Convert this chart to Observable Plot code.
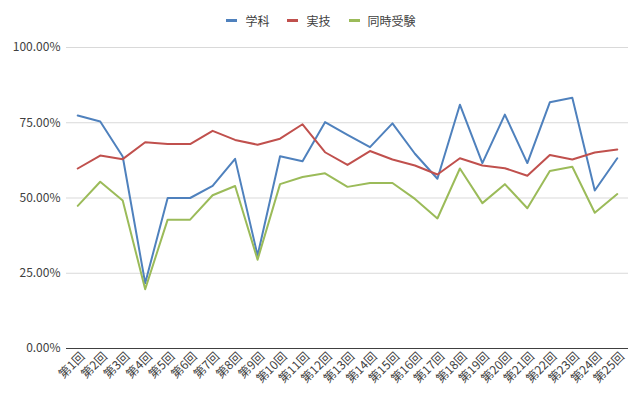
<!DOCTYPE html>
<html>
<head>
<meta charset="utf-8">
<script src="https://cdn.jsdelivr.net/npm/d3@7"></script>
<script src="https://cdn.jsdelivr.net/npm/@observablehq/plot@0.6"></script>
<style>
  html, body { margin: 0; padding: 0; background: #fff; }
  body { width: 638px; height: 399px; overflow: hidden; font-family: "Noto Sans CJK JP", "Noto Sans", sans-serif; }
  #legend { height: 35px; display: flex; justify-content: center; align-items: center; font-size: 12px; color: #404040; box-sizing: border-box; padding-top: 6px; padding-left: 4px; }
  .item { display: flex; align-items: center; margin: 0 9px; }
  .sw { width: 11px; height: 3px; margin-right: 8px; }
</style>
</head>
<body>
<div id="legend"></div>
<div id="chart"></div>
<script>
const categories = ["第1回","第2回","第3回","第4回","第5回","第6回","第7回","第8回","第9回","第10回","第11回","第12回","第13回","第14回","第15回","第16回","第17回","第18回","第19回","第20回","第21回","第22回","第23回","第24回","第25回"];
const seriesNames = ["学科", "実技", "同時受験"];
const gakka = [77.4,75.4,63.8,21.7,50.0,50.0,54.0,63.0,30.9,63.9,62.2,75.2,71.0,66.9,74.8,64.7,56.4,81.0,61.6,77.7,61.6,81.8,83.3,52.5,63.2];
const jitsugi = [59.8,64.1,62.9,68.5,67.9,67.9,72.3,69.3,67.7,69.7,74.5,65.2,61.0,65.6,62.8,60.8,57.8,63.2,60.8,59.9,57.4,64.3,62.8,65.1,66.1];
const doji = [47.4,55.4,49.2,19.7,42.8,42.8,50.9,54.0,29.5,54.6,57.0,58.2,53.7,55.0,55.0,49.7,43.2,59.8,48.3,54.6,46.6,59.0,60.4,45.1,51.3];
const yTicks = [0, 0.25, 0.5, 0.75, 1];
const colors = ["#4f81bd", "#c0504d", "#9bbb59"];

const seriesValues = [gakka, jitsugi, doji];
const data = [];
seriesNames.forEach((s, i) => {
  categories.forEach((c, j) => data.push({series: s, cat: c, value: seriesValues[i][j] / 100}));
});

const legend = document.getElementById("legend");
seriesNames.forEach((s, i) => {
  const it = document.createElement("div");
  it.className = "item";
  it.innerHTML = `<span class="sw" style="background:${colors[i]}"></span><span>${s}</span>`;
  legend.appendChild(it);
});

const chart = Plot.plot({
  width: 638,
  height: 364,
  marginTop: 12,
  marginBottom: 51,
  marginLeft: 66,
  marginRight: 10,
  style: { fontFamily: "'Noto Sans CJK JP', 'Noto Sans', sans-serif", fontSize: "11px", color: "#404040", background: "#fff" },
  x: { type: "point", domain: categories, padding: 0.5, round: false, label: null },
  y: { domain: [0, 1], label: null },
  color: { domain: seriesNames, range: colors },
  marks: [
    Plot.ruleY(yTicks.filter(d => d > 0), { stroke: "#d9d9d9", strokeWidth: 1 }),
    Plot.axisY({ ticks: yTicks, tickFormat: d3.format(".2%"), tickSize: 0, tickPadding: 6, fontSize: 12, label: null }),
    Plot.axisX({ tickRotate: -45, tickSize: 0, tickPadding: 4, fontSize: 12, dx: 5, dy: 2, label: null }),
    Plot.line(data, { x: "cat", y: "value", z: "series", stroke: "series", strokeWidth: 2, strokeLinejoin: "round" }),
    Plot.ruleY([0], { stroke: "#404040", strokeWidth: 1 })
  ]
});
document.getElementById("chart").appendChild(chart);
</script>
</body>
</html>
